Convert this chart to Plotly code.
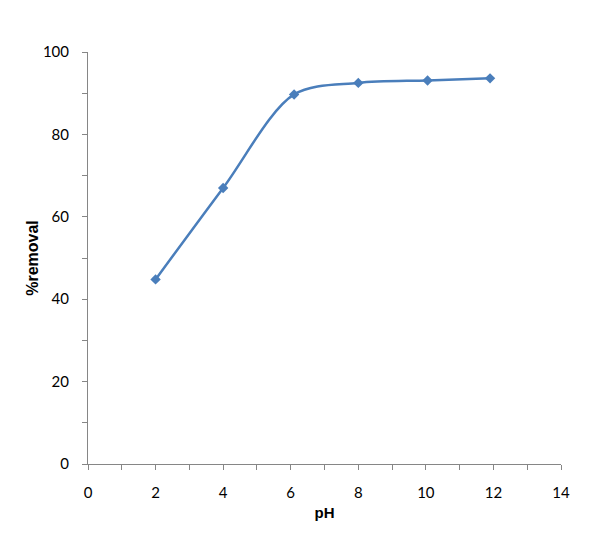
import plotly.graph_objects as go

# pH 与去除率
ph = [2, 4, 6.1, 8, 10.05, 11.9]
removal = [44.8, 67.0, 89.7, 92.5, 93.1, 93.6]

fig = go.Figure()
fig.add_trace(go.Scatter(
    x=ph, y=removal,
    mode="lines+markers",
    line=dict(color="#4a7ebb", width=2.5, shape="spline", smoothing=0.9),
    marker=dict(symbol="diamond", size=8, color="#4a7ebb"),
    showlegend=False,
))

axis_common = dict(
    showgrid=False, zeroline=False,
    showline=True, linecolor="#868686", linewidth=1,
    ticks="outside", tickcolor="#868686", ticklen=5,
    tickfont=dict(family="Lato", size=15, color="black"),
    ticklabelstandoff=10,
)
fig.update_xaxes(
    range=[0, 14], dtick=2,
    minor=dict(ticks="outside", dtick=1, ticklen=5, tickcolor="#868686"),
    title=dict(text="<b>pH</b>", font=dict(family="Liberation Sans", size=15, color="black"), standoff=7),
    **axis_common,
)
fig.update_yaxes(
    range=[0, 100], dtick=20,
    minor=dict(ticks="outside", dtick=10, ticklen=5, tickcolor="#868686"),
    title=dict(text="<b>%removal</b>", font=dict(family="Liberation Sans", size=16, color="black"), standoff=0),
    **axis_common,
)
fig.update_layout(
    width=611, height=540,
    margin=dict(l=80, r=58, t=44, b=84),
    plot_bgcolor="white", paper_bgcolor="white",
)
fig.write_html("out.html")
